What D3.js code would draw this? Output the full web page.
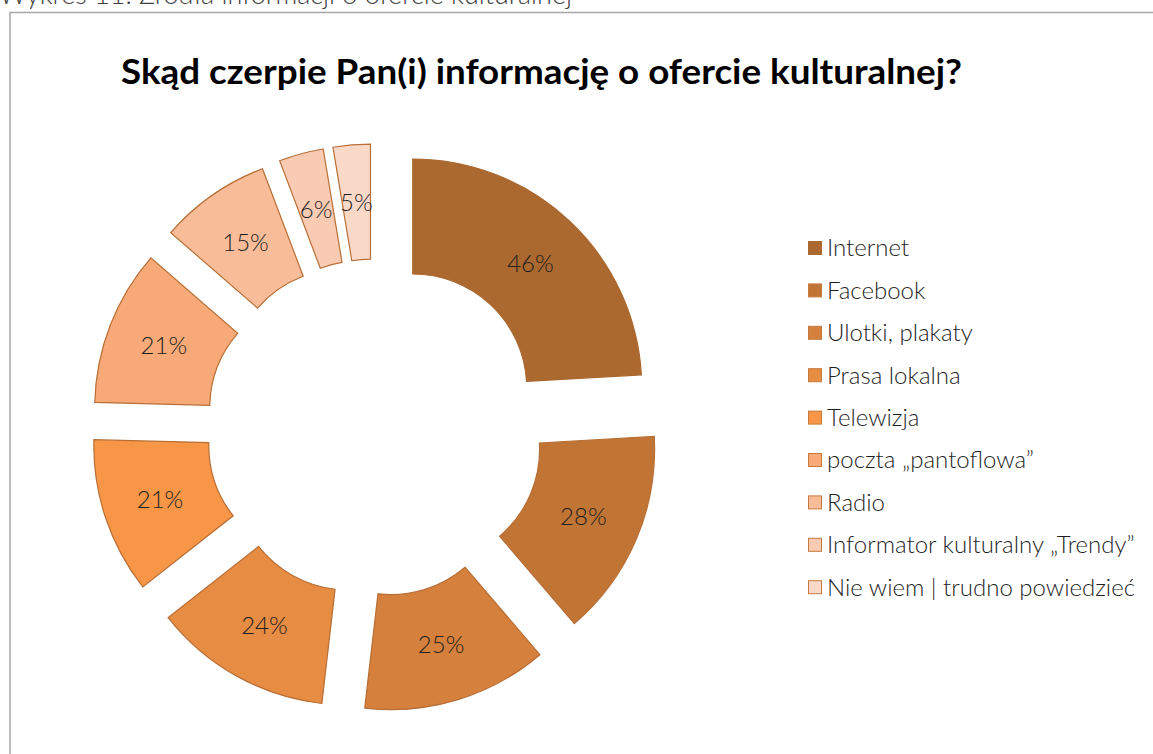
<!DOCTYPE html>
<html>
<head>
<meta charset="utf-8">
<script src="https://cdn.jsdelivr.net/npm/d3@7"></script>
<style>
  html, body { margin: 0; padding: 0; background: #fff; }
  svg { display: block; }
  .light { font-family: "Lato Light", "Lato", sans-serif; font-weight: 300; }
</style>
</head>
<body>
<svg id="chart" width="1153" height="754"></svg>
<script>
const caption = "Wykres 11. Źródła informacji o ofercie kulturalnej";
const title = "Skąd czerpie Pan(i) informację o ofercie kulturalnej?";
const categories = ["Internet", "Facebook", "Ulotki, plakaty", "Prasa lokalna", "Telewizja",
  "poczta „pantoflowa”", "Radio", "Informator kulturalny „Trendy”", "Nie wiem | trudno powiedzieć"];
const values = [46, 28, 25, 24, 21, 21, 15, 6, 5];
const colors = ["#AB682F", "#C17535", "#D5813D", "#E68C43", "#F79646",
  "#F7AA77", "#F9BC99", "#F9CBB3", "#FBD9C9"];

const svg = d3.select("#chart");

// caption (cut off at top, as in the source page)
svg.append("text")
  .attr("class", "light")
  .attr("x", -1).attr("y", 4)
  .attr("font-size", 27).attr("fill", "#404040")
  .attr("textLength", 573).attr("lengthAdjust", "spacingAndGlyphs")
  .text(caption);

// chart border
svg.append("rect")
  .attr("x", 10).attr("y", 12.5).attr("width", 1200).attr("height", 800)
  .attr("fill", "none").attr("stroke", "#A6A6A6").attr("stroke-width", 1.5);

// title
svg.append("text")
  .attr("x", 121).attr("y", 84)
  .attr("font-family", "Lato").attr("font-weight", 700)
  .attr("font-size", 34).attr("fill", "#000")
  .attr("textLength", 841).attr("lengthAdjust", "spacingAndGlyphs")
  .text(title);

// donut
const cx = 375, cy = 428, R = 229, r = 114, explode = 55;
const pie = d3.pie().sort(null).value(d => d.v).startAngle(0).endAngle(2 * Math.PI);
const arcs = pie(values.map((v, i) => ({ v, i })));
const arc = d3.arc().innerRadius(r).outerRadius(R);
const labelArc = d3.arc().innerRadius((R + r) / 2).outerRadius((R + r) / 2);

const g = svg.append("g").attr("transform", `translate(${cx},${cy})`);
const slices = g.selectAll("g.slice").data(arcs).enter().append("g")
  .attr("class", "slice")
  .attr("transform", d => {
    const m = (d.startAngle + d.endAngle) / 2;
    return `translate(${explode * Math.sin(m)},${-explode * Math.cos(m)})`;
  });
slices.append("path")
  .attr("d", arc)
  .attr("fill", d => colors[d.data.i])
  .attr("stroke", d => d.data.i === 0 ? colors[0] : "#B86E35")
  .attr("stroke-width", 1.2)
  .attr("stroke-linejoin", "miter");
slices.append("text")
  .attr("class", "light")
  .attr("transform", d => `translate(${labelArc.centroid(d)})`)
  .attr("text-anchor", "middle").attr("dy", "0.35em")
  .attr("font-size", 24).attr("fill", "#1F1F1F")
  .text(d => d.data.v + "%");

// legend
const legend = svg.append("g").attr("transform", "translate(808,248)");
const rowH = 42.4;
const items = legend.selectAll("g").data(categories).enter().append("g")
  .attr("transform", (d, i) => `translate(0,${i * rowH})`);
items.append("rect")
  .attr("x", 0.5).attr("y", -6.5).attr("width", 13).attr("height", 13)
  .attr("fill", (d, i) => colors[i])
  .attr("stroke", (d, i) => i === 0 ? colors[0] : "#C87A3E").attr("stroke-width", 1);
items.append("text")
  .attr("class", "light")
  .attr("x", 19).attr("y", 0).attr("dy", "0.35em")
  .attr("font-size", 24).attr("fill", "#1F1F1F")
  .text(d => d);
</script>
</body>
</html>
